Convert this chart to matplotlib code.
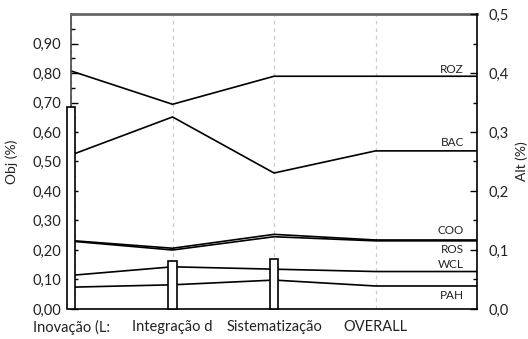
import matplotlib
matplotlib.use("Agg")
import matplotlib.pyplot as plt
from matplotlib.ticker import MultipleLocator, FuncFormatter

plt.rcParams["font.family"] = ["Lato", "DejaVu Sans"]

# categories and values
categories = ["Inovação (L:", "Integração d", "Sistematização", "OVERALL"]
series_names = ["ROZ", "BAC", "COO", "ROS", "WCL", "PAH"]
roz = [0.807, 0.694, 0.789, 0.789]
bac = [0.522, 0.651, 0.461, 0.536]
coo = [0.232, 0.206, 0.253, 0.234]
ros = [0.230, 0.200, 0.245, 0.231]
wcl = [0.114, 0.143, 0.135, 0.127]
pah = [0.074, 0.082, 0.098, 0.078]
alt_bars = [0.342, 0.081, 0.085]

series = [roz, bac, coo, ros, wcl, pah]
# label offset (points) above / below the line end
label_offsets = [5, 6, 7, -6.5, 4.8, -6.5]

fig = plt.figure(figsize=(5.28, 3.39), dpi=100)
ax = fig.add_axes([0.1345, 0.0885, 0.769, 0.8702])
ax2 = ax.twinx()

n = len(categories)
xs = list(range(n)) + [n]
for name, vals, off in zip(series_names, series, label_offsets):
    ax.plot(xs, vals + [vals[-1]], color="black", lw=1.2, solid_joinstyle="miter")
    ax.annotate(name, xy=(n - 0.13, vals[-1]), xytext=(0, off),
                textcoords="offset points", ha="right", va="center",
                fontsize=8.5, color="#222222")

ax2.bar(range(len(alt_bars)), alt_bars, width=0.08, color="white",
        edgecolor="black", lw=1.2, clip_on=False, zorder=3)

ax.set_xlim(0, n)
ax.set_ylim(0, 1.0)
ax2.set_ylim(0, 0.5)

ax.set_xticks(range(n))
ax.set_xticklabels(categories, fontsize=10.5, color="#222222")
ax.tick_params(axis="x", length=0, pad=8)
ax.grid(axis="x", color="#cccccc", linestyle=(0, (3, 3)), lw=0.9)
ax.set_axisbelow(True)

ax.yaxis.set_major_locator(MultipleLocator(0.1))
ax.yaxis.set_minor_locator(MultipleLocator(0.05))
ax.yaxis.set_major_formatter(FuncFormatter(
    lambda v, p: "" if v > 0.95 else f"{v:.2f}".replace(".", ",")))
ax.tick_params(axis="y", which="major", direction="in", length=5, width=1,
               labelsize=10.5, pad=7, labelcolor="#222222")
ax.tick_params(axis="y", which="minor", direction="in", length=3, width=1)

ax2.yaxis.set_major_locator(MultipleLocator(0.1))
ax2.yaxis.set_minor_locator(MultipleLocator(0.05))
ax2.yaxis.set_major_formatter(FuncFormatter(lambda v, p: f"{v:.1f}".replace(".", ",")))
ax2.tick_params(axis="y", which="major", direction="in", length=5, width=1,
                labelsize=10.5, pad=8, labelcolor="#222222")
ax2.tick_params(axis="y", which="minor", direction="in", length=3, width=1)

ax.set_ylabel("Obj (%)", fontsize=10, color="#222222", rotation=90, va="center")
ax.yaxis.set_label_coords(-0.145, 0.5)
ax2.set_ylabel("Alt (%)", fontsize=10, color="#222222", rotation=90, va="center")
ax2.yaxis.set_label_coords(1.11, 0.5)

ax.spines["right"].set_visible(False)
for s in ["left", "top", "bottom"]:
    ax2.spines[s].set_visible(False)
ax.spines["top"].set_color("#666666")
ax.spines["top"].set_linewidth(2)
ax.spines["left"].set_color("#444444")
ax.spines["left"].set_linewidth(1.2)
ax.spines["bottom"].set_linewidth(1.2)
ax2.spines["right"].set_linewidth(1.2)

fig.savefig("out.png", dpi=100)
